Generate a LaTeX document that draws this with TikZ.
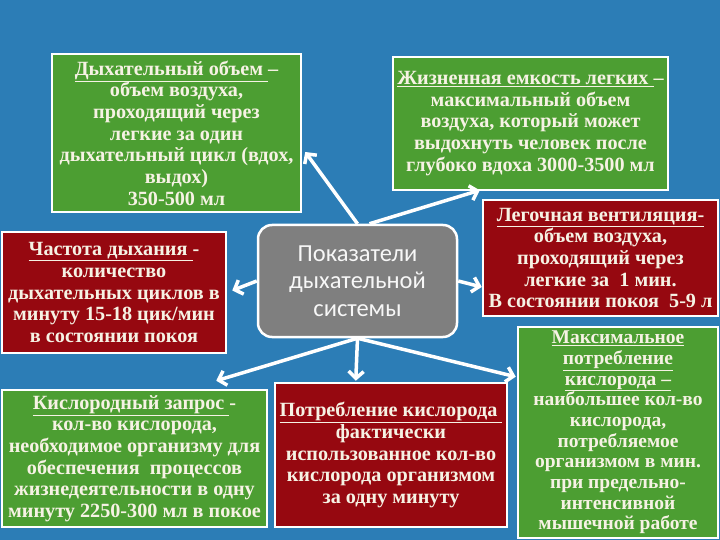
\documentclass[tikz,border=0pt]{standalone}
\usepackage{fontspec}
\setmainfont{Liberation Serif}
\newfontfamily\ctrfont{Carlito}
\usetikzlibrary{calc,arrows.meta}
\definecolor{bgblue}{RGB}{44,125,182}
\definecolor{boxgreen}{RGB}{76,158,50}
\definecolor{boxred}{RGB}{150,8,16}
\definecolor{txt}{RGB}{246,242,228}
\definecolor{ctrgray}{RGB}{127,127,127}
\begin{document}
\begin{tikzpicture}[x=1pt,y=-1pt,
  box/.style={draw=white, line width=2.5pt, inner sep=1pt, align=center, text=txt,
    font=\fontsize{20.2}{21.7}\selectfont\bfseries},
  gbox/.style={box, fill=boxgreen},
  rbox/.style={box, fill=boxred},
  conn/.style={draw=white, line width=3.5pt, -{Straight Barb[length=7pt,width=15pt]}}]
\useasboundingbox (0,0) rectangle (720,540);
\fill[bgblue] (0,0) rectangle (720,540);

\node[gbox, minimum width=249pt, minimum height=158pt] (b1) at (176.5,133)
 {\underline{Дыхательный объем }–\\объем воздуха,\\проходящий через\\легкие за один\\дыхательный цикл (вдох,\\выдох)\\350-500 мл};

\node[gbox, minimum width=275pt, minimum height=133pt] (b2) at (530.5,123.5)
 {\underline{Жизненная емкость легких }–\\максимальный объем\\воздуха, который может\\выдохнуть человек после\\глубоко вдоха 3000-3500 мл};

\node[rbox, minimum width=235pt, minimum height=116pt] (b3) at (600.5,258)
 {\underline{Легочная вентиляция-}\\объем воздуха,\\проходящий через\\легкие за\ \ 1 мин.\\В состоянии покоя\ \ 5-9 л};

\node[rbox, minimum width=224pt, minimum height=121pt] (b4) at (114,292.5)
 {\underline{Частота дыхания }-\\количество\\дыхательных циклов в\\минуту 15-18 цик/мин\\в состоянии покоя};

\node[gbox, minimum width=265pt, minimum height=137pt] (b5) at (134.5,458.5)
 {\underline{Кислородный запрос }-\\кол-во кислорода,\\необходимое организму для\\обеспечения\ \ процессов\\жизнедеятельности в одну\\минуту 2250-300 мл в покое};

\node[rbox, minimum width=232pt, minimum height=144pt] (b6) at (391,455)
 {\underline{Потребление кислорода }\\фактически\\использованное кол-во\\кислорода организмом\\за одну минуту};

\node[gbox, minimum width=200pt, minimum height=211pt, font=\fontsize{19.5}{20.7}\selectfont\bfseries] (b7) at (618,432.5)
 {\underline{Максимальное}\\\underline{потребление}\\\underline{кислорода –}\\наибольшее кол-во\\кислорода,\\потребляемое\\организмом в мин.\\при предельно-\\интенсивной\\мышечной работе};

\node[draw=white, line width=2.5pt, fill=ctrgray, rounded corners=14pt,
  minimum width=199pt, minimum height=112pt, align=center, text=white!94!gray,
  font=\ctrfont\fontsize{24.5}{27.5}\selectfont] (c) at (357.5,281)
 {Показатели\\дыхательной\\системы};

\draw[conn] (c.north) -- ($(b1.east)+(3,19)$);
\draw[conn] ($(c.north)+(12,0)$) -- ($(b2.south west)+(88,-1)$);
\draw[conn] (c.east) -- ($(b3.west)+(0,29)$);
\draw[conn] (c.west) -- ($(b4.east)+(5,-2)$);
\draw[conn] (c.south) -- ($(b6.north west)+(82,-1)$);
\draw[conn] (c.south) -- ($(b5.north east)+(-52,-8)$);
\draw[conn] (c.south) -- ($(b7.north west)+(-1,51)$);
\end{tikzpicture}
\end{document}
